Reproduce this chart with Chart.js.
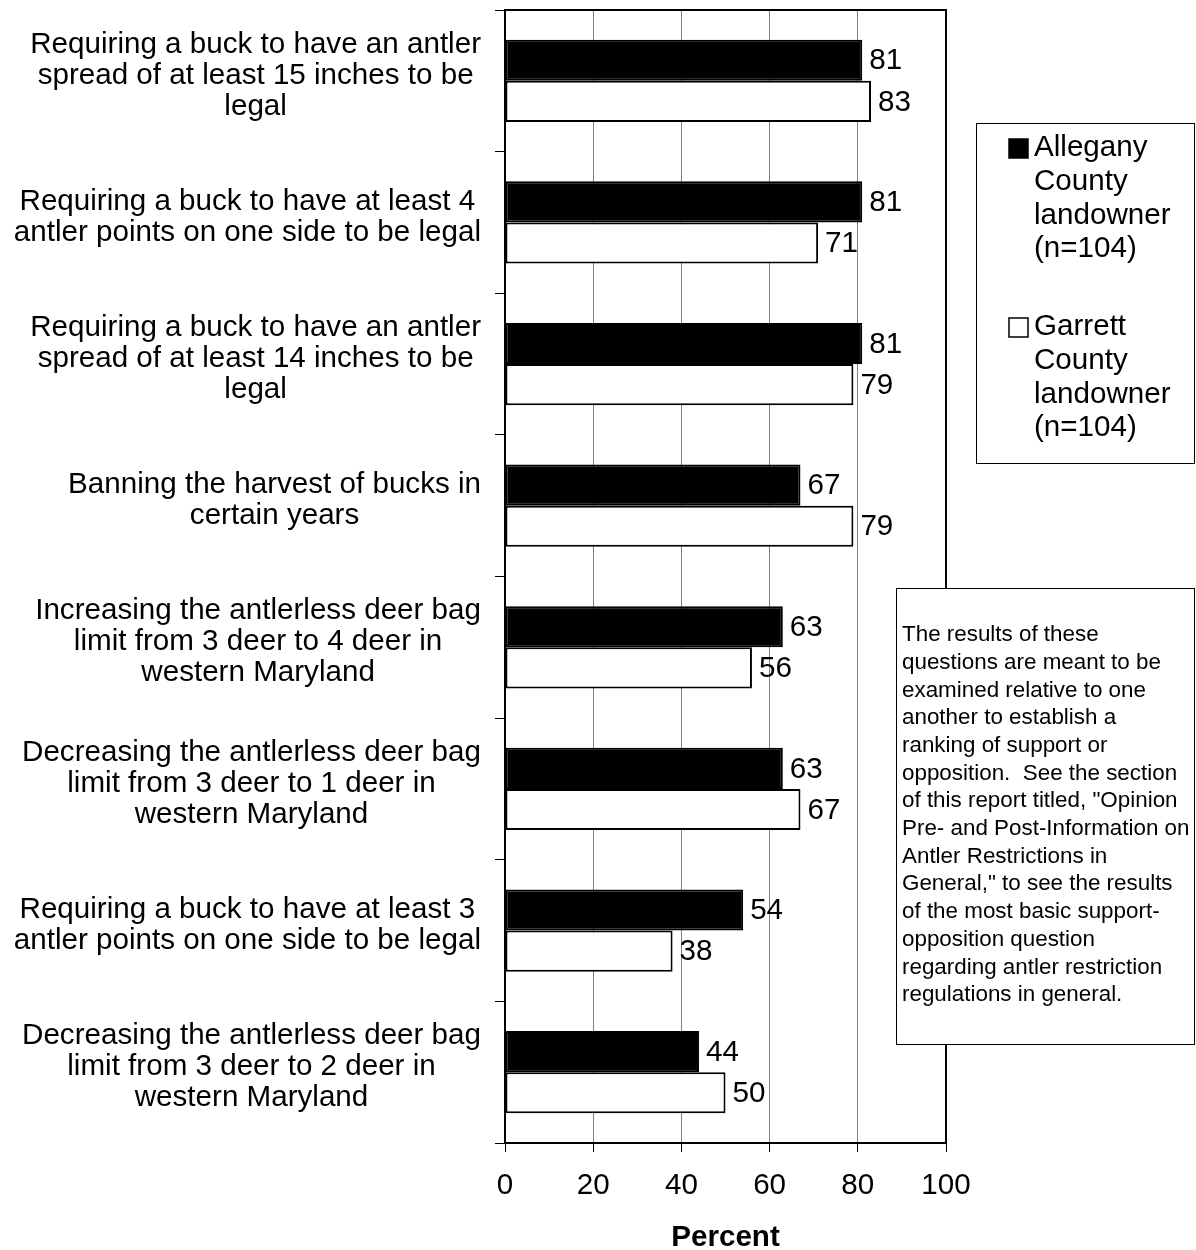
<!DOCTYPE html>
<html>
<head>
<meta charset="utf-8">
<script src="https://cdn.jsdelivr.net/npm/chart.js@4/dist/chart.umd.min.js"></script>
<style>
  html, body { margin: 0; padding: 0; background: #fff; }
  #wrap { width: 1196px; height: 1250px; position: relative; }
</style>
</head>
<body>
<div id="wrap"><canvas id="c" width="1196" height="1250"></canvas></div>
<script>
const categories = [
  ["Requiring a buck to have an antler", "spread of at least 15 inches to be", "legal"],
  ["Requiring a buck to have at least 4", "antler points on one side to be legal"],
  ["Requiring a buck to have an antler", "spread of at least 14 inches to be", "legal"],
  ["Banning the harvest of bucks in", "certain years"],
  ["Increasing the antlerless deer bag", "limit from 3 deer to 4 deer in", "western Maryland"],
  ["Decreasing the antlerless deer bag", "limit from 3 deer to 1 deer in", "western Maryland"],
  ["Requiring a buck to have at least 3", "antler points on one side to be legal"],
  ["Decreasing the antlerless deer bag", "limit from 3 deer to 2 deer in", "western Maryland"]
];
const allegany = [81, 81, 81, 67, 63, 63, 54, 44];
const garrett  = [83, 71, 79, 79, 56, 67, 38, 50];
const seriesNames = [
  ["Allegany", "County", "landowner", "(n=104)"],
  ["Garrett", "County", "landowner", "(n=104)"]
];
const xTicks = [0, 20, 40, 60, 80, 100];
const axisTitle = "Percent";
const noteLines = [
  "The results of these",
  "questions are meant to be",
  "examined relative to one",
  "another to establish a",
  "ranking of support or",
  "opposition.  See the section",
  "of this report titled, \"Opinion",
  "Pre- and Post-Information on",
  "Antler Restrictions in",
  "General,\" to see the results",
  "of the most basic support-",
  "opposition question",
  "regarding antler restriction",
  "regulations in general."
];

const FONT = '"Liberation Sans", Arial, Helvetica, sans-serif';
const FS = 29.6;

const plotBorder = {
  id: 'plotBorder',
  afterDatasetsDraw(chart) {
    const {ctx, chartArea: a} = chart;
    ctx.save();
    ctx.strokeStyle = '#000';
    ctx.lineWidth = 2;
    ctx.strokeRect(a.left, a.top, a.right - a.left, a.bottom - a.top);
    ctx.restore();
  }
};

const valueLabels = {
  id: 'valueLabels',
  afterDatasetsDraw(chart) {
    const ctx = chart.ctx;
    ctx.save();
    ctx.font = FS + 'px ' + FONT;
    ctx.fillStyle = '#000';
    ctx.textAlign = 'left';
    ctx.textBaseline = 'middle';
    chart.data.datasets.forEach((ds, di) => {
      const meta = chart.getDatasetMeta(di);
      meta.data.forEach((bar, i) => {
        ctx.fillText(String(ds.data[i]), bar.x + 7, bar.y + 1);
      });
    });
    ctx.restore();
  }
};

const catLabels = {
  id: 'catLabels',
  afterDraw(chart) {
    const ctx = chart.ctx;
    const y = chart.scales.y;
    const rightEdge = y.right - 24;
    ctx.save();
    ctx.font = FS + 'px ' + FONT;
    ctx.fillStyle = '#000';
    ctx.textAlign = 'center';
    ctx.textBaseline = 'middle';
    const lh = 31;
    categories.forEach((lines, i) => {
      const cy = y.getPixelForValue(i) - 5;
      const w = Math.max(...lines.map(l => ctx.measureText(l).width));
      const cx = rightEdge - w / 2;
      lines.forEach((l, k) => {
        ctx.fillText(l, cx, cy + (k - (lines.length - 1) / 2) * lh);
      });
    });
    ctx.restore();
  }
};

const boxes = {
  id: 'boxes',
  afterDraw(chart) {
    const ctx = chart.ctx;
    ctx.save();
    // legend box
    ctx.fillStyle = '#fff';
    ctx.fillRect(976, 123, 218, 340);
    ctx.strokeStyle = '#000';
    ctx.lineWidth = 1;
    ctx.strokeRect(976.5, 123.5, 218, 340);
    const fills = ['#000', '#fff'];
    const starts = [148, 327];
    ctx.font = FS + 'px ' + FONT;
    ctx.textAlign = 'left';
    ctx.textBaseline = 'middle';
    seriesNames.forEach((lines, s) => {
      const y0 = starts[s];
      ctx.fillStyle = fills[s];
      ctx.fillRect(1009, y0 - 9, 19, 19);
      ctx.strokeStyle = '#000';
      ctx.lineWidth = 1.5;
      ctx.strokeRect(1009, y0 - 9, 19, 19);
      ctx.fillStyle = '#000';
      lines.forEach((l, k) => ctx.fillText(l, 1034, y0 + k * 33.7));
    });
    // note box
    ctx.fillStyle = '#fff';
    ctx.fillRect(896, 588, 298, 456);
    ctx.strokeStyle = '#000';
    ctx.lineWidth = 1;
    ctx.strokeRect(896.5, 588.5, 298, 456);
    ctx.fillStyle = '#000';
    ctx.font = '22.4px ' + FONT;
    noteLines.forEach((l, k) => ctx.fillText(l, 902, 635 + k * 27.7));
    ctx.restore();
  }
};

new Chart(document.getElementById('c'), {
  type: 'bar',
  data: {
    labels: categories,
    datasets: [
      { label: 'Allegany County landowner (n=104)', data: allegany,
        backgroundColor: '#000', borderColor: '#000', borderWidth: 2, borderSkipped: false },
      { label: 'Garrett County landowner (n=104)', data: garrett,
        backgroundColor: '#fff', borderColor: '#000', borderWidth: 2, borderSkipped: false }
    ]
  },
  options: {
    indexAxis: 'y',
    responsive: false,
    animation: false,
    events: [],
    devicePixelRatio: 1,
    layout: { padding: { left: 0, right: 250, top: 10, bottom: 0 } },
    datasets: { bar: { categoryPercentage: 0.58, barPercentage: 1.0 } },
    plugins: { legend: { display: false }, tooltip: { enabled: false }, title: { display: false } },
    scales: {
      x: {
        type: 'linear',
        min: 0, max: 100,
        afterBuildTicks(scale) { scale.ticks = xTicks.map(v => ({ value: v })); },
        afterFit(scale) { scale.height = 107; },
        grid: { color: '#808080', lineWidth: 1, tickColor: '#000', tickLength: 9, drawTicks: true },
        border: { color: '#000', width: 2 },
        ticks: { font: { size: FS, family: FONT }, color: '#000', padding: 16, maxRotation: 0 },
        title: { display: true, text: axisTitle, color: '#000',
                 font: { size: FS, family: FONT, weight: 'bold', lineHeight: 0.85 },
                 padding: { top: 0, bottom: 0 } }
      },
      y: {
        type: 'category',
        afterFit(scale) { scale.width = 505; },
        grid: { drawOnChartArea: false, drawTicks: true, tickLength: 10, color: '#000', tickColor: '#000', offset: true },
        border: { color: '#000', width: 2 },
        ticks: { display: false }
      }
    }
  },
  plugins: [plotBorder, valueLabels, catLabels, boxes]
});
</script>
</body>
</html>
